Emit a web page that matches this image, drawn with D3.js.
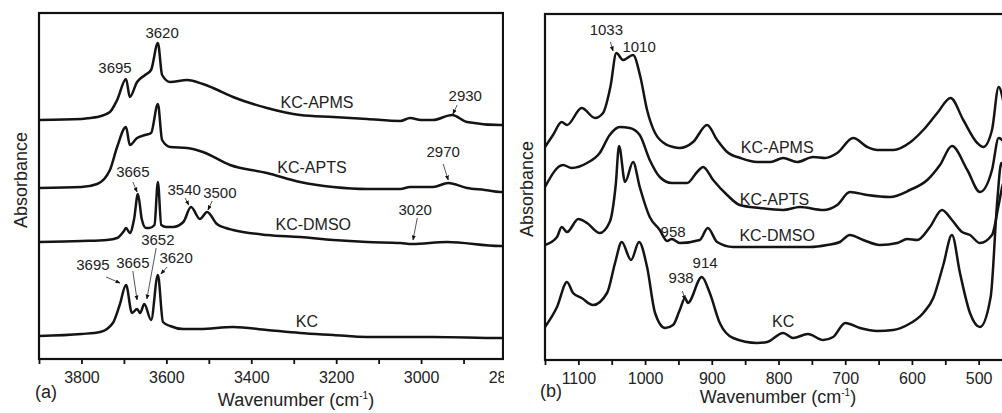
<!DOCTYPE html>
<html>
<head>
<meta charset="utf-8">
<script src="https://cdn.jsdelivr.net/npm/d3@7"></script>
<style>
  body { margin: 0; background: #fff; }
  svg { display: block; font-family: "Liberation Sans", Arial, sans-serif; }
</style>
</head>
<body>
<svg id="chart" width="1002" height="413"></svg>
<script>
// ---- data: [wavenumber, absorbance (offset-stacked, a.u.)] ----
// panel (a), 3900-2800 cm-1
const apmsA = [[3900,2.39],[3800,2.40],[3780,2.41],[3763,2.42],[3733,2.47],[3716,2.59],[3695,2.80],[3686,2.62],[3669,2.77],[3650,2.84],[3636,2.89],[3620,3.16],[3610,2.84],[3591,2.77],[3551,2.79],[3514,2.75],[3490,2.71],[3443,2.62],[3363,2.51],[3285,2.44],[3207,2.42],[3127,2.40],[3049,2.38],[3026,2.41],[3000,2.39],[2972,2.39],[2927,2.44],[2892,2.37],[2814,2.34],[2800,2.34]];
const aptsA = [[3900,1.71],[3800,1.72],[3763,1.75],[3733,1.89],[3716,2.12],[3695,2.32],[3686,2.14],[3669,2.21],[3650,2.24],[3636,2.26],[3620,2.55],[3610,2.19],[3591,2.12],[3551,2.11],[3514,2.07],[3450,1.94],[3363,1.86],[3285,1.77],[3207,1.72],[3127,1.70],[3049,1.70],[3026,1.72],[2972,1.72],[2936,1.76],[2892,1.71],[2850,1.69],[2814,1.67],[2800,1.67]];
const dmsoA = [[3900,1.17],[3800,1.18],[3740,1.19],[3716,1.21],[3700,1.28],[3695,1.31],[3686,1.26],[3676,1.40],[3667,1.65],[3658,1.40],[3648,1.31],[3640,1.31],[3628,1.34],[3620,1.77],[3612,1.34],[3600,1.32],[3584,1.32],[3560,1.37],[3542,1.52],[3521,1.40],[3504,1.47],[3481,1.35],[3460,1.31],[3443,1.29],[3363,1.24],[3285,1.22],[3207,1.19],[3127,1.17],[3049,1.16],[3021,1.15],[2939,1.17],[2814,1.13],[2800,1.13]];
const kcA = [[3900,0.23],[3800,0.25],[3756,0.27],[3726,0.36],[3710,0.54],[3695,0.74],[3681,0.46],[3669,0.50],[3662,0.46],[3652,0.55],[3636,0.39],[3620,0.84],[3608,0.37],[3591,0.33],[3560,0.30],[3521,0.30],[3443,0.32],[3363,0.29],[3285,0.26],[3207,0.24],[3127,0.22],[2972,0.22],[2814,0.21],[2800,0.21]];

// panel (b), 1150-450 cm-1
const apmsB = [[1150,2.13],[1138,2.25],[1125,2.38],[1117,2.35],[1095,2.52],[1075,2.42],[1063,2.47],[1052,2.73],[1043,3.07],[1033,3.00],[1018,3.05],[1007,2.83],[997,2.50],[985,2.27],[967,2.15],[958,2.13],[948,2.12],[928,2.18],[907,2.35],[892,2.20],[877,2.08],[857,2.02],[832,1.98],[812,1.98],[793,2.02],[772,1.98],[748,2.03],[730,2.02],[712,2.07],[688,2.22],[667,2.13],[652,2.10],[628,2.10],[602,2.18],[583,2.30],[562,2.47],[542,2.62],[523,2.40],[502,2.17],[493,2.13],[480,2.30],[470,2.73],[460,2.50],[450,2.20]];
const aptsB = [[1150,1.73],[1123,1.95],[1110,1.92],[1087,1.97],[1068,2.07],[1053,2.25],[1038,2.33],[1023,2.32],[1008,2.25],[993,2.00],[978,1.83],[960,1.77],[937,1.77],[922,1.88],[913,1.93],[898,1.80],[877,1.65],[858,1.55],[828,1.52],[793,1.50],[768,1.53],[733,1.50],[712,1.55],[693,1.68],[667,1.65],[633,1.63],[603,1.70],[577,1.80],[558,1.95],[540,2.14],[517,1.90],[498,1.68],[480,1.90],[470,2.22],[460,2.15],[450,1.95]];
const dmsoB = [[1150,1.15],[1132,1.23],[1125,1.33],[1117,1.28],[1100,1.41],[1087,1.37],[1068,1.27],[1053,1.38],[1044,1.75],[1039,2.14],[1030,1.78],[1018,1.98],[1008,1.73],[993,1.43],[978,1.30],[967,1.19],[960,1.21],[948,1.17],[918,1.20],[906,1.32],[892,1.18],[868,1.13],[817,1.13],[783,1.13],[753,1.13],[727,1.15],[708,1.18],[693,1.25],[673,1.20],[648,1.15],[622,1.17],[607,1.21],[592,1.20],[573,1.33],[555,1.50],[540,1.40],[525,1.28],[513,1.25],[498,1.17],[480,1.25],[470,1.55],[464,1.75],[455,1.85],[450,1.70]];
const kcB = [[1150,0.33],[1132,0.53],[1117,0.78],[1108,0.67],[1095,0.62],[1078,0.55],[1057,0.67],[1045,0.97],[1035,1.18],[1021,1.00],[1009,1.18],[997,0.93],[985,0.47],[970,0.32],[958,0.35],[948,0.50],[940,0.62],[936,0.57],[915,0.83],[903,0.67],[888,0.37],[868,0.22],[832,0.17],[817,0.18],[793,0.27],[778,0.22],[756,0.26],[733,0.20],[718,0.23],[700,0.37],[678,0.32],[652,0.29],[628,0.30],[607,0.35],[583,0.47],[568,0.62],[553,0.95],[540,1.25],[528,0.87],[513,0.47],[498,0.33],[482,0.63],[472,1.60],[466,1.97],[458,1.70],[450,1.30]];

// ticks
const ticksA = [3900,3800,3700,3600,3500,3400,3300,3200,3100,3000,2900,2800];
const tickLabelsA = [3800,3600,3400,3200,3000,2800];
const ticksB = [1150,1100,1050,1000,950,900,850,800,750,700,650,600,550,500,450];
const tickLabelsB = [1100,1000,900,800,700,600,500];

// annotations: [text, wavenumber, absorbance, font size]
const notesA = [
  ['3695',3721,2.86,15],['3620',3610,3.21,15],['KC-APMS',3245,2.51,16],['2930',2896,2.58,15],
  ['KC-APTS',3257,1.86,16],['2970',2948,2.02,15],
  ['3665',3679,1.82,15],['3540',3558,1.64,15],['3500',3474,1.61,15],['KC-DMSO',3254,1.29,16],['3020',3014,1.44,15],
  ['3652',3620,1.14,15],['3695',3773,0.89,15],['3665',3679,0.91,15],['3620',3577,0.96,15],['KC',3269,0.32,16]
];
const notesB = [
  ['1033',1058,3.25,15],['1010',1009,3.08,15],['KC-APMS',802,2.07,16],['KC-APTS',806,1.55,16],
  ['KC-DMSO',802,1.19,16],['958',958,1.23,15],['914',910,0.92,15],['938',946,0.77,15],['KC',793,0.33,16]
];
// leader arrows: [wn1, a1, wn2, a2]
const leadersA = [
  [2915,2.54,2925,2.45],[2948,1.95,2936,1.79],[3679,1.77,3669,1.67],[3556,1.61,3547,1.54],
  [3492,1.58,3502,1.49],[3009,1.41,3019,1.19],[3624,1.11,3646,0.60],[3742,0.82,3709,0.76],
  [3679,0.88,3669,0.59],[3598,0.92,3613,0.85]
];
const leadersB = [[1052,3.18,1048,3.09],[944,0.69,940,0.60]];

const H = 413;
const svg = d3.select('#chart');
const defs = svg.append('defs');
defs.append('marker')
  .attr('id', 'arrow')
  .attr('viewBox', '0 0 10 10')
  .attr('refX', 9).attr('refY', 5)
  .attr('markerWidth', 5).attr('markerHeight', 5)
  .attr('markerUnits', 'userSpaceOnUse')
  .attr('orient', 'auto')
  .append('path').attr('d', 'M0,1L10,5L0,9Z').attr('fill', '#111');

function drawPanel(p) {
  const x = d3.scaleLinear().domain(p.domain).range(p.xRange);
  const y = d3.scaleLinear().domain([0, 3.46]).range([p.bottom, p.top]);

  defs.append('clipPath').attr('id', p.id + '-panel').append('rect')
    .attr('x', p.clipX[0]).attr('y', 0)
    .attr('width', p.clipX[1] - p.clipX[0]).attr('height', H);
  defs.append('clipPath').attr('id', p.id + '-plot').append('rect')
    .attr('x', p.xRange[0]).attr('y', p.top)
    .attr('width', p.right - p.xRange[0]).attr('height', p.bottom - p.top);

  const g = svg.append('g').attr('clip-path', `url(#${p.id}-panel)`);

  const line = d3.line()
    .x(d => x(d[0]))
    .y(d => y(d[1]))
    .curve(d3.curveMonotoneX);

  g.append('g')
    .attr('clip-path', `url(#${p.id}-plot)`)
    .selectAll('path')
    .data(p.series)
    .join('path')
    .attr('d', line)
    .attr('fill', 'none')
    .attr('stroke', '#141414')
    .attr('stroke-width', 2.5)
    .attr('stroke-linejoin', 'round');

  const axis = d3.axisBottom(x)
    .tickValues(p.ticks)
    .tickSize(5)
    .tickPadding(8)
    .tickFormat(d => p.tickLabels.includes(d) ? d : '');
  const ax = g.append('g')
    .attr('transform', `translate(0,${p.bottom})`)
    .call(axis)
    .attr('font-size', 16)
    .attr('font-family', null);
  ax.select('.domain').remove();
  ax.selectAll('line').attr('stroke', '#111').attr('stroke-width', 1.8);
  ax.selectAll('text').attr('fill', '#222');

  // frame
  g.append('rect')
    .attr('x', p.xRange[0]).attr('y', p.top)
    .attr('width', p.right - p.xRange[0]).attr('height', p.bottom - p.top)
    .attr('fill', 'none').attr('stroke', '#111').attr('stroke-width', 2.2);

  // leaders
  g.selectAll('line.leader')
    .data(p.leaders)
    .join('line')
    .attr('class', 'leader')
    .attr('x1', d => x(d[0])).attr('y1', d => y(d[1]))
    .attr('x2', d => x(d[2])).attr('y2', d => y(d[3]))
    .attr('stroke', '#555').attr('stroke-width', 1)
    .attr('marker-end', 'url(#arrow)');

  // peak / series labels
  g.selectAll('text.note')
    .data(p.notes)
    .join('text')
    .attr('class', 'note')
    .attr('x', d => x(d[1])).attr('y', d => y(d[2]))
    .attr('text-anchor', 'middle')
    .attr('font-size', d => d[3])
    .attr('fill', '#222')
    .text(d => d[0]);

  // axis titles
  svg.append('text')
    .attr('transform', `translate(${p.yTitle[0]},${p.yTitle[1]}) rotate(-90)`)
    .attr('text-anchor', 'middle')
    .attr('font-size', 18)
    .attr('fill', '#222')
    .text('Absorbance');

  const xt = svg.append('text')
    .attr('x', p.xTitle[0]).attr('y', p.xTitle[1])
    .attr('text-anchor', 'middle')
    .attr('font-size', 18)
    .attr('fill', '#222');
  xt.append('tspan').text('Wavenumber (cm');
  xt.append('tspan').attr('font-size', 10).attr('dy', -7).text('-1');
  xt.append('tspan').attr('dy', 7).text(')');

  svg.append('text')
    .attr('x', p.letter[0]).attr('y', p.letter[1])
    .attr('font-size', 18)
    .attr('fill', '#222')
    .text(p.letter[2]);
}

drawPanel({
  id: 'pa', domain: [3900, 2800], xRange: [39, 506], right: 503, clipX: [0, 504],
  top: 13, bottom: 359,
  series: [apmsA, aptsA, dmsoA, kcA],
  ticks: ticksA, tickLabels: tickLabelsA,
  notes: notesA, leaders: leadersA,
  yTitle: [27, 180], xTitle: [296, 406], letter: [35, 398, '(a)']
});

drawPanel({
  id: 'pb', domain: [1150, 450], xRange: [545, 1012], right: 1012, clipX: [504, 1002],
  top: 14, bottom: 360,
  series: [apmsB, aptsB, dmsoB, kcB],
  ticks: ticksB, tickLabels: tickLabelsB,
  notes: notesB, leaders: leadersB,
  yTitle: [533, 189], xTitle: [778, 403], letter: [540, 397, '(b)']
});
</script>
</body>
</html>
